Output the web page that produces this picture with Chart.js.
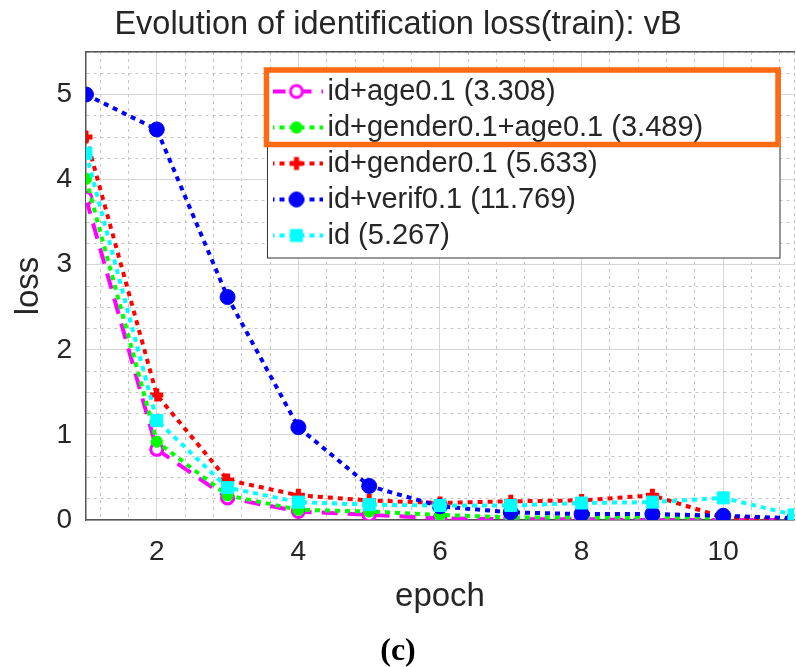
<html><head><meta charset="utf-8">
<script src="https://cdn.jsdelivr.net/npm/chart.js"></script>
<style>body{margin:0;background:#fff}</style>
</head>
<body>
<canvas id="myChart" width="796" height="667"></canvas>
<script>
// values
var epochs = [1, 2, 3, 4, 5, 6, 7, 8, 9, 10, 11];
var ageLoss       = [3.78, 0.83, 0.26, 0.10, 0.06, 0.02, 0.01, 0.01, 0.00, 0.00, 0.00];
var genderAgeLoss = [4.01, 0.92, 0.29, 0.12, 0.10, 0.06, 0.03, 0.03, 0.03, 0.03, 0.02];
var genderLoss    = [4.50, 1.47, 0.47, 0.29, 0.23, 0.20, 0.22, 0.23, 0.29, 0.03, 0.00];
var verifLoss     = [5.00, 4.59, 2.62, 1.09, 0.40, 0.16, 0.09, 0.07, 0.07, 0.05, 0.02];
var idLoss        = [4.31, 1.17, 0.38, 0.21, 0.18, 0.17, 0.17, 0.20, 0.21, 0.26, 0.06];
var seriesNames = ['id+age0.1 (3.308)', 'id+gender0.1+age0.1 (3.489)', 'id+gender0.1 (5.633)', 'id+verif0.1 (11.769)', 'id (5.267)'];
var xTickLabels = [2, 4, 6, 8, 10];
var yTickLabels = [0, 1, 2, 3, 4, 5];

Chart.defaults.font.family = "'Liberation Sans', Arial, sans-serif";
Chart.defaults.color = '#262626';

// minor grid every 0.4 epoch, lined up on the even epochs
var xGrid = [1];
for (var k = 3; k <= 27; k++) xGrid.push(+(k * 0.4).toFixed(1));
xGrid.push(11);

var datasets = [
  {label: seriesNames[0], data: ageLoss, borderColor: '#ff00ff', borderDash: [16, 10],
   pointStyle: 'circle', pointRadius: 6, pointBorderWidth: 3, pointBackgroundColor: '#ffffff', order: 4},
  {label: seriesNames[1], data: genderAgeLoss, borderColor: '#00ff00', borderDash: [5, 5],
   pointStyle: 'star', pointRadius: 6, pointBorderWidth: 4, pointBackgroundColor: '#00ff00', order: 3},
  {label: seriesNames[2], data: genderLoss, borderColor: '#ff0000', borderDash: [5, 5],
   pointStyle: 'cross', pointRadius: 6.5, pointBorderWidth: 5, pointBackgroundColor: '#ff0000', order: 2},
  {label: seriesNames[3], data: verifLoss, borderColor: '#0000ff', borderDash: [5, 5],
   pointStyle: 'circle', pointRadius: 7.5, pointBorderWidth: 1, pointBackgroundColor: '#0000ff', order: 1},
  {label: seriesNames[4], data: idLoss, borderColor: '#00ffff', borderDash: [5, 5],
   pointStyle: 'rect', pointRadius: 8.5, pointBorderWidth: 1, pointBackgroundColor: '#00ffff', order: 0}
];
datasets.forEach(function (d) {
  d.borderWidth = 4;
  d.borderCapStyle = 'butt';
  d.pointBorderColor = d.borderColor;
  d.tension = 0;
  d.fill = false;
});

// little line + marker pictures for the legend, like matlab draws them
function legendSample(d) {
  var c = document.createElement('canvas');
  c.width = 54; c.height = 22;
  var g = c.getContext('2d');
  g.strokeStyle = d.borderColor; g.lineWidth = 4; g.setLineDash(d.borderDash);
  g.beginPath(); g.moveTo(0, 11); g.lineTo(54, 11); g.stroke();
  g.setLineDash([]);
  g.fillStyle = d.pointBackgroundColor; g.lineWidth = d.pointBorderWidth;
  if (Chart.helpers && Chart.helpers.drawPoint) {
    Chart.helpers.drawPoint(g, {pointStyle: d.pointStyle, radius: d.pointRadius, rotation: 0, borderWidth: d.pointBorderWidth}, 27, 11);
  } else {
    g.beginPath(); g.arc(27, 11, d.pointRadius, 0, Math.PI * 2); g.fill(); g.stroke();
  }
  return c;
}
var samples = datasets.map(legendSample);

var legendBox = {
  id: 'legendBox',
  beforeDraw: function (chart) {
    var lg = chart.legend, a = chart.chartArea;
    lg.left = a.left + 187; lg.top = a.top + 18;
    lg.right = a.right - 14; lg.bottom = lg.top + 190;
  },
  afterDatasetsDraw: function (chart) {
    var lg = chart.legend, a = chart.chartArea, ctx = chart.ctx;
    var x0 = lg.left - 5.5, y0 = lg.top, x1 = a.right - 14, y1 = lg.top + 188;
    ctx.save();
    ctx.fillStyle = '#ffffff';
    ctx.fillRect(x0, y0, x1 - x0, y1 - y0);
    ctx.strokeStyle = '#333333'; ctx.lineWidth = 1;
    ctx.strokeRect(x0, y0, x1 - x0, y1 - y0);
    ctx.restore();
    lg.draw();
    ctx.save();
    ctx.strokeStyle = '#ff6a13'; ctx.lineWidth = 5.5;
    ctx.strokeRect(lg.left - 6.5, lg.top, (a.right - 16) - (lg.left - 6.5), 74.5);
    ctx.restore();
  }
};

function isMajor(ctx) {
  var v = ctx.tick.value;
  return ctx.scale.axis === 'x' ? xTickLabels.indexOf(v) >= 0 : yTickLabels.indexOf(v) >= 0;
}
function gridColor(ctx) { return ctx.tick && isMajor(ctx) ? '#d6d6d6' : '#c4c4c4'; }
function gridDash(ctx) { return ctx.tick && !isMajor(ctx) ? [3, 4] : []; }

var ctx = document.getElementById('myChart');
var myChart = new Chart(ctx, {
  type: 'line',
  data: {labels: epochs, datasets: datasets},
  plugins: [legendBox],
  options: {
    responsive: false,
    animation: false,
    devicePixelRatio: 1,
    events: [],
    layout: {padding: 0, autoPadding: false},
    scales: {
      x: {
        type: 'linear', min: 1, max: 11,
        afterBuildTicks: function (axis) { axis.ticks = xGrid.map(function (v) { return {value: v}; }); },
        ticks: {autoSkip: false, maxRotation: 0, padding: 2, font: {size: 28, lineHeight: 60 / 28},
                callback: function (v) { return xTickLabels.indexOf(v) >= 0 ? String(v) : ''; }},
        grid: {drawTicks: false, color: gridColor, lineWidth: 1},
        border: {color: '#555555', width: 1.5, dash: gridDash},
        title: {display: true, text: 'epoch', font: {size: 33, lineHeight: 1}, padding: {top: -4, bottom: 13}}
      },
      xTop: {
        type: 'linear', axis: 'x', position: 'top', min: 1, max: 11,
        grid: {display: false, drawTicks: false},
        ticks: {display: false},
        border: {color: '#555555', width: 1.5}
      },
      y: {
        min: 0, max: 5.5,
        ticks: {stepSize: 0.25, autoSkip: false, padding: 14, font: {size: 28, lineHeight: 1},
                callback: function (v) { return yTickLabels.indexOf(v) >= 0 ? String(v) : ''; }},
        grid: {drawTicks: false, color: gridColor, lineWidth: 1},
        border: {color: '#555555', width: 1.5, dash: gridDash},
        title: {display: true, text: 'loss', font: {size: 33, lineHeight: 1}, padding: {top: 12, bottom: -2.6}}
      }
    },
    plugins: {
      title: {display: true, text: 'Evolution of identification loss(train): vB',
              font: {size: 32.5, weight: 'normal', lineHeight: 1}, padding: {top: 9, bottom: 10.5}},
      subtitle: {display: true, position: 'bottom', text: '(c)', color: '#000000',
                 font: {family: "'Liberation Serif', 'Times New Roman', serif", size: 32, weight: 'bold', lineHeight: 1},
                 padding: {top: 10, bottom: -1}},
      legend: {
        display: true, position: 'chartArea', align: 'start',
        labels: {
          usePointStyle: true, pointStyleWidth: 33, padding: 7,
          font: {size: 29}, color: '#262626',
          sort: function (a, b) { return a.datasetIndex - b.datasetIndex; },
          generateLabels: function (chart) {
            var items = Chart.defaults.plugins.legend.labels.generateLabels(chart);
            items.forEach(function (it) { it.pointStyle = samples[it.datasetIndex]; });
            return items;
          }
        }
      },
      tooltip: {enabled: false}
    }
  }
});
</script>
</body></html>
